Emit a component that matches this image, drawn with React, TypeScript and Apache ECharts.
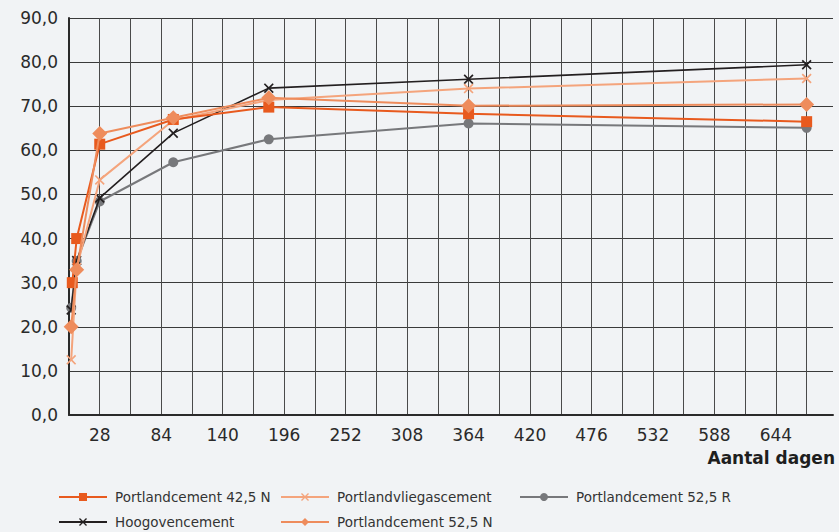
import React, { useEffect, useRef } from "react";
import * as echarts from "echarts";

const days = [2, 7, 28, 95, 182, 364, 672];
const days425N = [3, 7, 28, 95, 182, 364, 672];
const pc425N = [30.0, 40.0, 61.4, 67.0, 69.8, 68.3, 66.5];
const vliegas = [12.5, 33.4, 53.3, 66.8, 71.4, 74.0, 76.3];
const pc525R = [24.3, 34.9, 48.4, 57.3, 62.5, 66.1, 65.1];
const hoogoven = [23.8, 35.0, 49.2, 63.9, 74.1, 76.1, 79.4];
const pc525N = [20.0, 32.9, 63.8, 67.4, 71.9, 70.1, 70.4];

const seriesNames = [
  "Portlandcement 42,5 N",
  "Portlandvliegascement",
  "Portlandcement 52,5 R",
  "Hoogovencement",
  "Portlandcement 52,5 N",
];

const xTickLabels = [28, 84, 140, 196, 252, 308, 364, 420, 476, 532, 588, 644];

const CROSS =
  "path://M0,1.2 L1.2,0 L5,3.8 L8.8,0 L10,1.2 L6.2,5 L10,8.8 L8.8,10 L5,6.2 L1.2,10 L0,8.8 L3.8,5 Z";

const FONT = "DejaVu Sans";

export default function App() {
  const ref = useRef<HTMLDivElement>(null);
  useEffect(() => {
    if (!ref.current) return;
    const chart = echarts.init(ref.current, undefined, { renderer: "svg" });
    const pair = (xs: number[], ys: number[]) => ys.map((y, i) => [xs[i], y]);
    const mk = (
      name: string,
      data: number[][],
      color: string,
      symbol: string,
      size: number,
      width: number,
      z: number
    ) => ({
      name,
      type: "line",
      data,
      symbol,
      symbolSize: size,
      z,
      lineStyle: { color, width },
      itemStyle: { color },
      emphasis: { disabled: true },
    });
    const legendPos = [
      { left: 58, top: 490 },
      { left: 280, top: 490 },
      { left: 519, top: 490 },
      { left: 58, top: 515 },
      { left: 280, top: 515 },
    ];
    chart.setOption({
      animation: false,
      backgroundColor: "#f1f3f5",
      grid: { left: 69, right: 6, top: 18, bottom: 117, containLabel: false },
      xAxis: {
        type: "value",
        min: 0,
        max: 696,
        interval: 28,
        axisLine: { show: true, lineStyle: { color: "#2a2a2a", width: 2 } },
        axisTick: { show: false },
        axisLabel: {
          margin: 11,
          fontFamily: FONT,
          fontSize: 17,
          color: "#2a2a2a",
          formatter: (v: number) => (xTickLabels.includes(v) ? String(v) : ""),
        },
        splitLine: {
          show: true,
          showMaxLine: false,
          lineStyle: { color: "#4a4a4a", width: 1 },
        },
      },
      yAxis: {
        type: "value",
        min: 0,
        max: 90,
        interval: 10,
        axisLine: { show: true, lineStyle: { color: "#2a2a2a", width: 2 } },
        axisTick: { show: false },
        axisLabel: {
          margin: 11,
          fontFamily: FONT,
          fontSize: 17,
          color: "#2a2a2a",
          formatter: (v: number) => v.toFixed(1).replace(".", ","),
        },
        splitLine: { show: true, lineStyle: { color: "#3a3a3a", width: 1 } },
      },
      legend: seriesNames.map((n, i) => ({
        data: [n],
        left: legendPos[i].left,
        top: legendPos[i].top,
        orient: "horizontal",
        itemWidth: 48,
        itemHeight: 10,
        padding: 0,
        selectedMode: false,
        textStyle: {
          fontFamily: FONT,
          fontSize: 13.5,
          color: "#333333",
          padding: [0, 0, 0, 3],
        },
      })),
      graphic: [
        {
          type: "text",
          right: 4,
          top: 449,
          style: {
            text: "Aantal dagen",
            fontFamily: FONT,
            fontSize: 17,
            fontWeight: "bold",
            fill: "#1e1e1e",
          },
        },
      ],
      series: [
        mk(seriesNames[2], pair(days, pc525R), "#77787b", "circle", 10, 2, 2),
        mk(seriesNames[3], pair(days, hoogoven), "#231f20", CROSS, 10, 1.6, 3),
        mk(seriesNames[1], pair(days, vliegas), "#f4a47c", CROSS, 10, 2, 4),
        mk(seriesNames[0], pair(days425N, pc425N), "#e85a1e", "rect", 11, 2, 5),
        mk(seriesNames[4], pair(days, pc525N), "#ee8c5c", "diamond", 15, 2, 6),
      ],
    });
    return () => chart.dispose();
  }, []);
  return (
    <div
      ref={ref}
      style={{ position: "absolute", left: 0, top: 0, width: 839, height: 532 }}
    />
  );
}
